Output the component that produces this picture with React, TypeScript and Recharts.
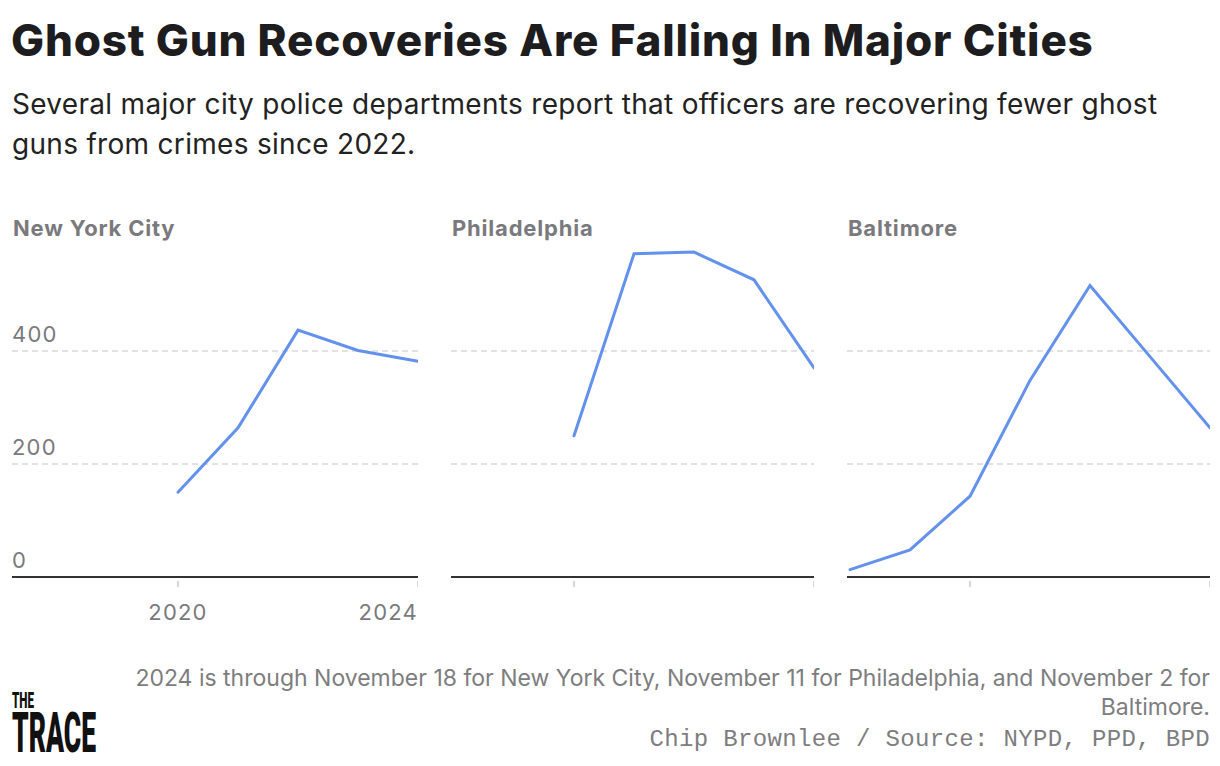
import React from 'react';
import { LineChart, Line, XAxis, YAxis, ReferenceLine } from 'recharts';

const YEARS = [2018, 2019, 2020, 2021, 2022, 2023, 2024];
const NYC = [null, null, 150, 264, 437, 401, 382];
const PHILADELPHIA = [null, null, 250, 572, 575, 526, 370];
const BALTIMORE = [13, 48, 143, 348, 516, 390, 264];

const Y_TICKS = [0, 200, 400];
const X_TICKS = [2020, 2024];

const BLUE = '#6391ee';
const GREY = '#7a7a7e';
const FONT = 'Inter, Roboto, sans-serif';

const PX_PER_YEAR = 60;

const toRows = (values: (number | null)[]) => YEARS.map((year, i) => ({ year, value: values[i] }));

const XTick = ({ x, y, payload, showLabel }: any) => {
  const last = payload.value === X_TICKS[X_TICKS.length - 1];
  return (
    <g>
      <line x1={x} x2={x} y1={y + 4} y2={y + 10} stroke="#c8c8c8" strokeWidth={1.5} />
      {showLabel && (
        <text
          x={x}
          y={y + 43}
          textAnchor={last ? 'end' : 'middle'}
          fill={GREY}
          fontSize={22}
          fontFamily={FONT}
          letterSpacing={1.2}
        >
          {payload.value}
        </text>
      )}
    </g>
  );
};

const YLabel = ({ viewBox, text }: any) => (
  <text x={viewBox.x} y={viewBox.y - 9} textAnchor="start" fill={GREY} fontSize={22} fontFamily={FONT} letterSpacing={1.2}>
    {text}
  </text>
);

interface PanelProps {
  title: string;
  values: (number | null)[];
  left: number;
  width: number;
  firstPanel?: boolean;
}

const Panel: React.FC<PanelProps> = ({ title, values, left, width, firstPanel }) => {
  const span = YEARS[YEARS.length - 1] - YEARS[0];
  const extra = width / PX_PER_YEAR - span;
  const domain = [YEARS[0] - Math.max(0, extra), YEARS[YEARS.length - 1]];
  return (
    <>
      <div
        style={{
          position: 'absolute',
          left: left + 1,
          top: 213,
          fontFamily: FONT,
          fontWeight: 700,
          fontSize: 22,
          color: GREY,
          lineHeight: '30px',
          letterSpacing: 0.8,
          whiteSpace: 'nowrap',
        }}
      >
        {title}
      </div>
      <div style={{ position: 'absolute', left, top: 228 }}>
        <LineChart width={width} height={399} data={toRows(values)} margin={{ top: 10, right: 0, bottom: 0, left: 0 }}>
          <XAxis
            dataKey="year"
            type="number"
            domain={domain}
            ticks={X_TICKS}
            allowDataOverflow
            height={50}
            axisLine={{ stroke: '#333', strokeWidth: 2 }}
            tickLine={false}
            tickSize={0}
            tickMargin={0}
            tick={<XTick showLabel={firstPanel} />}
            interval={0}
          />
          <YAxis domain={[0, 600]} hide />
          {Y_TICKS.map((v) => (
            <ReferenceLine
              key={v}
              y={v}
              stroke={v === 0 ? 'none' : '#c6c6c6'}
              strokeDasharray="6 4"
              strokeWidth={1.2}
              label={firstPanel ? <YLabel text={String(v)} /> : undefined}
            />
          ))}
          <Line
            dataKey="value"
            stroke={BLUE}
            strokeWidth={3}
            dot={false}
            activeDot={false}
            isAnimationActive={false}
            connectNulls={false}
            strokeLinecap="round"
          />
        </LineChart>
      </div>
    </>
  );
};

export default function App() {
  return (
    <div style={{ position: 'absolute', left: 0, top: 0, width: 1220, height: 766, background: '#fff', overflow: 'hidden' }}>
      <div
        style={{
          position: 'absolute',
          left: 11,
          top: 13,
          fontFamily: FONT,
          fontWeight: 800,
          fontSize: 44,
          letterSpacing: 0.8,
          color: '#1d1d1f',
          lineHeight: '54px',
          whiteSpace: 'nowrap',
        }}
      >
        Ghost Gun Recoveries Are Falling In Major Cities
      </div>
      <div
        style={{
          position: 'absolute',
          left: 12,
          top: 84,
          width: 1190,
          fontFamily: FONT,
          fontSize: 28,
          letterSpacing: 0.3,
          color: '#222',
          lineHeight: '40px',
        }}
      >
        Several major city police departments report that officers are recovering fewer ghost guns from crimes since 2022.
      </div>

      <Panel title="New York City" values={NYC} left={12} width={406} firstPanel />
      <Panel title="Philadelphia" values={PHILADELPHIA} left={451} width={363} />
      <Panel title="Baltimore" values={BALTIMORE} left={847} width={363} />

      <div
        style={{
          position: 'absolute',
          left: 125,
          top: 664,
          width: 1085,
          textAlign: 'right',
          fontFamily: FONT,
          fontSize: 23,
          color: '#7d7d80',
          lineHeight: '29px',
        }}
      >
        2024 is through November 18 for New York City, November 11 for Philadelphia, and November 2 for Baltimore.
      </div>
      <div
        style={{
          position: 'absolute',
          right: 10,
          top: 724,
          fontFamily: '"Liberation Mono", "DejaVu Sans Mono", monospace',
          fontSize: 24,
          letterSpacing: 0.35,
          color: '#7d7d80',
          lineHeight: '32px',
          whiteSpace: 'nowrap',
        }}
      >
        Chip Brownlee / Source: NYPD, PPD, BPD
      </div>

      <svg style={{ position: 'absolute', left: 12, top: 690, overflow: 'visible' }} width={30} height={19}>
        <text x={0} y={18} fontFamily="Roboto, sans-serif" fontWeight={900} fontSize={22} textLength={22} lengthAdjust="spacingAndGlyphs" fill="#111">
          THE
        </text>
      </svg>
      <svg style={{ position: 'absolute', left: 12, top: 712, overflow: 'visible' }} width={90} height={41}>
        <text x={0} y={40} fontFamily="Roboto, sans-serif" fontWeight={900} fontSize={55} textLength={84} lengthAdjust="spacingAndGlyphs" fill="#111">
          TRACE
        </text>
      </svg>
    </div>
  );
}
